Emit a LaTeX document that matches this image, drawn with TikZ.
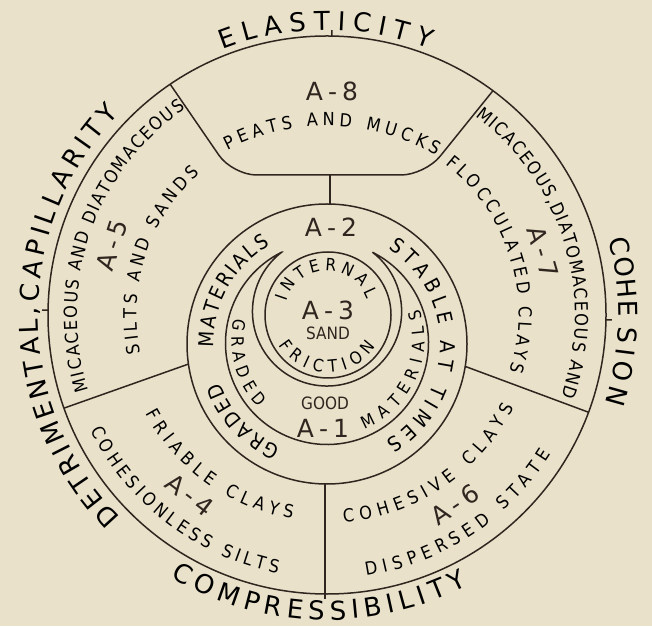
\documentclass[tikz,border=0pt]{standalone}
\usepackage{fontspec}
\usetikzlibrary{decorations.text}
\newfontfamily\bigfont{DejaVu Sans}
\newfontfamily\lettering[FakeStretch=0.9]{DejaVu Sans}
\definecolor{paper}{RGB}{233,225,201}
\definecolor{ink}{RGB}{48,38,32}
\newcommand{\outerfont}{\bigfont\fontsize{26pt}{26pt}\selectfont}
\newcommand{\idfont}{\bigfont\fontsize{25pt}{25pt}\selectfont}
\newcommand{\zonefont}{\lettering\fontsize{18pt}{18pt}\selectfont}
\newcommand{\ringfont}{\lettering\fontsize{20.5pt}{20.5pt}\selectfont}
\newcommand{\corefont}{\lettering\fontsize{17pt}{17pt}\selectfont}
\newcommand{\regid}[1]{A\kern5pt-\kern5pt#1}
% text on a circular arc: center, radius, start, end, font, text
\newcommand{\arctext}[6]{%
  \path[decorate, decoration={text along path, text align=fit to path, text={|#5|#6}}]
    ([shift={(#3:#2)}]#1) arc[start angle=#3, end angle=#4, radius=#2];}

\begin{document}
\begin{tikzpicture}[x=1pt, y=1pt, line width=1.5pt, color=ink]
  \path[use as bounding box, fill=paper] (0,0) rectangle (652,626);
  \coordinate (O) at (327,311);
  \coordinate (B) at (327,282);
  \coordinate (core) at (328,311);
  \coordinate (inner) at (327,313);
  \coordinate (crescent) at (328,286);

  \draw (O) circle[radius=279];
  \draw (B) circle[radius=140];
  \draw (core) circle[radius=63];
  \draw ([shift={(116.6:101.5)}]327,283) arc[start angle=116.6, end angle=423.4, radius=101.5]
    arc[start angle=52.5, end angle=-232.5, radius=74.6] -- cycle;

  \coordinate (a8l) at ([shift={(124.2:279)}]O);
  \coordinate (a8r) at ([shift={(53.5:279)}]O);
  \draw[rounded corners=24pt] (a8l) -- (232.5,451) -- (425,451) -- (a8r);

  \coordinate (a8b) at (330,451);
  \coordinate (a2t) at (330,422);
  \coordinate (a2b) at (325,142);
  \coordinate (rimb) at (325,27);
  \coordinate (a2l) at (188.4,261.9);
  \coordinate (riml) at ([shift={(199.5:279)}]O);
  \coordinate (a2r) at (465.2,259.6);
  \coordinate (rimr) at ([shift={(-20.4:279)}]O);
  \draw (a8b) -- (a2t);
  \draw (a2b) -- (rimb);
  \draw (a2l) -- (riml);
  \draw (a2r) -- (rimr);
  \foreach \a in {89,179,-1}
    \draw ([shift={(\a:279)}]O) -- ([shift={(\a:285)}]O);

  \node (a8) at (332,535) {\idfont\regid{8}};
  \node (a2) at (331,399) {\idfont\regid{2}};
  \node (a3) at (328,316) {\idfont\regid{3}};
  \node (sand) at (328,293) {\corefont SAND};
  \node (good) at (325,223) {\corefont GOOD};
  \node (a1) at (323,198) {\idfont\regid{1}};
  \node[rotate=72] (a5) at ([shift={(162:226)}]O) {\idfont\regid{5}};
  \node[rotate=-73.7] (a7) at ([shift={(16.3:225)}]O) {\idfont\regid{7}};
  \node[rotate=-37.3] (a4) at ([shift={(232.7:226)}]O) {\idfont\regid{4}};
  \node[rotate=34] (a6) at ([shift={(304:229)}]O) {\idfont\regid{6}};

  \arctext{O}{285}{111.5}{69}{\outerfont}{ELASTICITY}
  \arctext{O}{289}{224.5}{178.5}{\outerfont}{DETRIMENTAL,}
  \arctext{O}{289}{177.5}{136}{\outerfont}{CAPILLARITY}
  \arctext{O}{291.5}{15}{-0.3}{\outerfont}{COHE}
  \arctext{O}{291.5}{-2.3}{-17.6}{\outerfont}{SION}
  \arctext{O}{305}{239.2}{297.4}{\outerfont}{COMPRESSIBILITY}

  \arctext{B}{218}{117.2}{59.8}{\zonefont}{PEATS AND MUCKS}
  \arctext{O}{250}{197.5}{124.5}{\zonefont}{MICACEOUS AND DIATOMACEOUS}
  \arctext{O}{190.5}{191.6}{132}{\zonefont}{SILTS AND SANDS}
  \arctext{O}{248}{53.3}{-19.2}{\zonefont}{MICACEOUS,DIATOMACEOUS AND}
  \arctext{O}{191.75}{51.9}{-17.2}{\zonefont}{FLOCCULATED CLAYS}
  \arctext{O}{262.75}{206}{259.2}{\zonefont}{COHESIONLESS SILTS}
  \arctext{O}{206.75}{208.4}{260.4}{\zonefont}{FRIABLE CLAYS}
  \arctext{O}{208.25}{274.6}{333.7}{\zonefont}{COHESIVE CLAYS}
  \arctext{O}{263.75}{278.5}{328.2}{\zonefont}{DISPERSED STATE}

  \arctext{B}{113.5}{181.6}{119.8}{\ringfont}{MATERIALS}
  \arctext{B}{113.5}{246}{199.7}{\ringfont}{GRADED}
  \arctext{B}{113.5}{57.4}{-58.8}{\ringfont}{STABLE AT TIMES}
  \arctext{crescent}{96.5}{167.2}{224.1}{\corefont}{GRADED}
  \arctext{crescent}{96.5}{292}{378.4}{\corefont}{MATERIALS}
  \arctext{inner}{42.5}{164}{19}{\corefont}{INTERNAL}
  \arctext{core}{57.5}{211.4}{326.4}{\corefont}{FRICTION}
\end{tikzpicture}
\end{document}
